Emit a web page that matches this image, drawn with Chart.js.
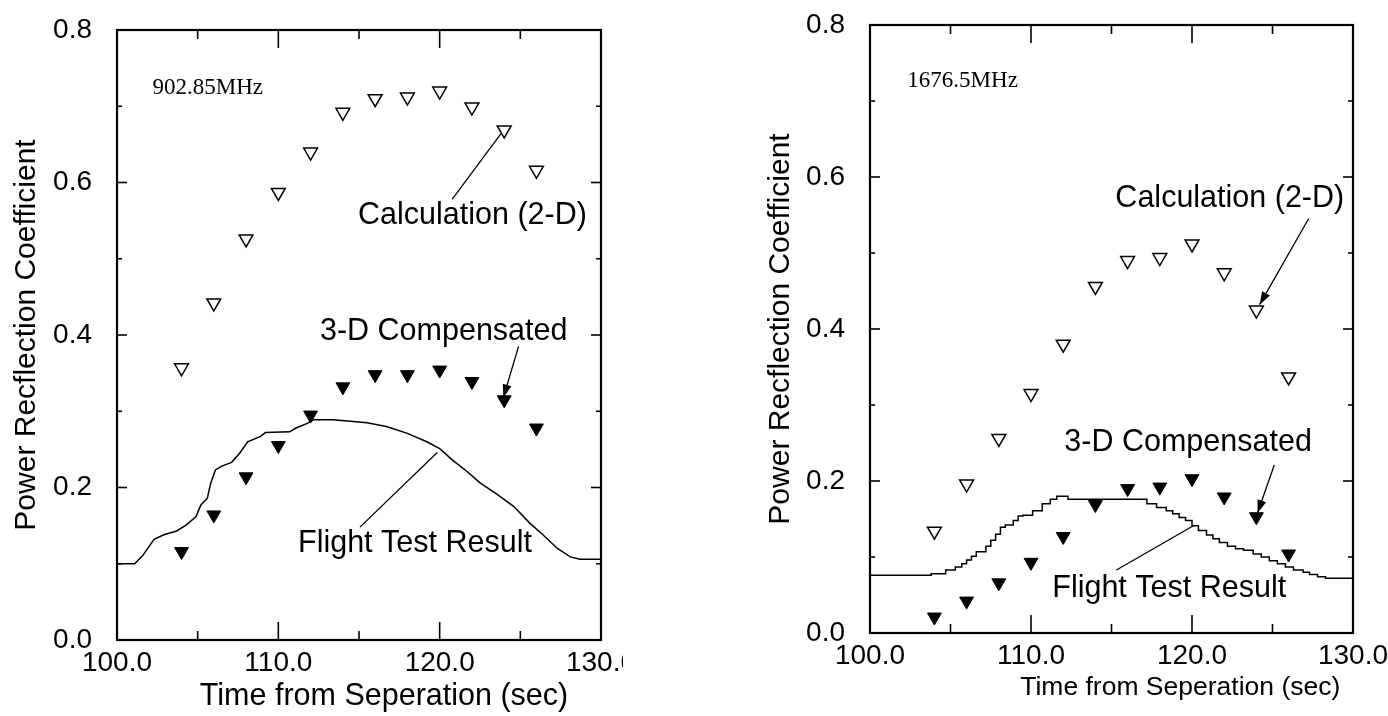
<!DOCTYPE html>
<html><head><meta charset="utf-8">
<script src="https://cdn.jsdelivr.net/npm/chart.js@4.4.1/dist/chart.umd.min.js"></script>
<style>
html,body{margin:0;padding:0;background:#fff;width:1388px;height:716px;overflow:hidden}
canvas{position:absolute;top:0}
#c1{left:0}
#c2{left:694px}
</style></head><body>
<canvas id="c1" width="623" height="716"></canvas>
<canvas id="c2" width="694" height="716"></canvas>
<script>
// ---- data ----
const times = [104, 106, 108, 110, 112, 114, 116, 118, 120, 122, 124, 126];

// 902.85 MHz
const calc902 = [0.357, 0.442, 0.526, 0.587, 0.640, 0.692, 0.710, 0.712, 0.720, 0.699, 0.669, 0.616];
const comp902 = [0.116, 0.164, 0.214, 0.255, 0.295, 0.332, 0.348, 0.348, 0.354, 0.339, 0.315, 0.278];
const flight902T = [100.0, 101.1, 101.6, 102.3, 102.9, 103.7, 104.3, 104.9, 105.2, 105.6, 105.8, 106.1, 106.5, 107.1, 107.6, 108.1, 108.9, 109.2, 110.7, 111.1, 111.8, 112.2, 113.4, 115.5, 116.7, 118.0, 119.2, 120.0, 120.8, 121.7, 122.5, 123.5, 124.6, 125.6, 126.4, 127.3, 128.1, 128.7, 130.0];
const flight902R = [0.100, 0.100, 0.111, 0.132, 0.138, 0.143, 0.151, 0.162, 0.177, 0.186, 0.205, 0.223, 0.228, 0.233, 0.245, 0.260, 0.267, 0.272, 0.273, 0.278, 0.284, 0.289, 0.289, 0.285, 0.280, 0.271, 0.260, 0.251, 0.236, 0.221, 0.206, 0.192, 0.175, 0.153, 0.138, 0.120, 0.109, 0.106, 0.106];

// 1676.5 MHz
const calc1676 = [0.134, 0.196, 0.256, 0.315, 0.380, 0.456, 0.490, 0.494, 0.512, 0.474, 0.425, 0.337];
const comp1676 = [0.021, 0.042, 0.066, 0.093, 0.127, 0.169, 0.190, 0.192, 0.203, 0.179, 0.153, 0.104];
const flight1676T = [100.0, 103.8, 104.7, 105.3, 105.7, 106.0, 106.3, 106.6, 107.2, 107.5, 107.8, 108.1, 108.4, 108.9, 109.2, 109.5, 110.1, 110.7, 111.2, 111.6, 112.3, 117.2, 117.8, 118.4, 118.8, 119.2, 119.6, 120.0, 120.4, 120.9, 121.3, 121.7, 122.2, 122.7, 123.2, 123.8, 124.3, 124.8, 125.3, 125.8, 126.3, 126.9, 127.3, 127.8, 128.3, 128.8, 130.0];
const flight1676R = [0.072, 0.076, 0.078, 0.083, 0.087, 0.091, 0.096, 0.101, 0.107, 0.114, 0.122, 0.130, 0.139, 0.142, 0.148, 0.154, 0.155, 0.161, 0.170, 0.176, 0.180, 0.176, 0.170, 0.165, 0.161, 0.157, 0.152, 0.148, 0.141, 0.135, 0.129, 0.124, 0.119, 0.114, 0.111, 0.109, 0.104, 0.100, 0.095, 0.091, 0.087, 0.083, 0.080, 0.077, 0.074, 0.072, 0.072];

// axis / label texts
const xTitle = 'Time from Seperation (sec)';
const yTitle = 'Power Recflection Coefficient';
const xMin = 100, xMax = 130, xStep = 10;
const yMin = 0, yMax = 0.8, yStep = 0.2;

const SANS = '"Liberation Sans", Arial, Helvetica, sans-serif';
const SERIF = '"Liberation Serif", "Times New Roman", serif';

const pts = (xs, ys) => xs.map((x, i) => ({x, y: ys[i]}));

const decor = {
  id: 'decor',
  afterDatasetsDraw(chart, args, o) {
    const ctx = chart.ctx, a = chart.chartArea, xs = chart.scales.x, ys = chart.scales.y;
    ctx.save();
    ctx.strokeStyle = '#000'; ctx.fillStyle = '#000';
    // frame
    ctx.lineWidth = 2.2;
    ctx.strokeRect(a.left, a.top, a.right - a.left, a.bottom - a.top);
    // inward tick marks on all four sides
    ctx.lineWidth = 1.6;
    const seg = (x1, y1, x2, y2) => { ctx.beginPath(); ctx.moveTo(x1, y1); ctx.lineTo(x2, y2); ctx.stroke(); };
    for (let v = xMin + xStep / 2; v < xMax - 1e-9; v += xStep / 2) {
      const major = Math.abs(v / xStep - Math.round(v / xStep)) < 1e-6;
      const L = major ? 18 : 9, p = xs.getPixelForValue(v);
      seg(p, a.bottom, p, a.bottom - L); seg(p, a.top, p, a.top + L);
    }
    for (let v = yMin + yStep / 2; v < yMax - 1e-9; v += yStep / 2) {
      const major = Math.abs(v / yStep - Math.round(v / yStep)) < 1e-6;
      const L = major ? 10 : 5, p = ys.getPixelForValue(v);
      seg(a.left, p, a.left + L, p); seg(a.right, p, a.right - L, p);
    }
    // leader lines
    ctx.lineWidth = 1.3;
    for (const l of o.lines) {
      const x1 = xs.getPixelForValue(l.x1), y1 = ys.getPixelForValue(l.y1);
      const x2 = xs.getPixelForValue(l.x2), y2 = ys.getPixelForValue(l.y2);
      seg(x1, y1, x2, y2);
      if (l.arrow) {
        const ang = Math.atan2(y2 - y1, x2 - x1), len = 13, w = 4.5;
        ctx.beginPath();
        ctx.moveTo(x2, y2);
        ctx.lineTo(x2 - len * Math.cos(ang) + w * Math.sin(ang), y2 - len * Math.sin(ang) - w * Math.cos(ang));
        ctx.lineTo(x2 - len * Math.cos(ang) - w * Math.sin(ang), y2 - len * Math.sin(ang) + w * Math.cos(ang));
        ctx.closePath(); ctx.fill();
      }
    }
    // annotation texts
    ctx.textBaseline = 'middle'; ctx.textAlign = 'left';
    for (const n of o.notes) {
      ctx.font = n.font;
      ctx.fillText(n.text, xs.getPixelForValue(n.x), ys.getPixelForValue(n.y));
    }
    // x axis title
    ctx.font = o.xTitleSize + 'px ' + SANS; ctx.textAlign = 'center';
    ctx.fillText(xTitle, xs.getPixelForValue(o.xTitleAt), a.bottom + o.xTitleDy);
    ctx.restore();
  }
};

function makeChart(id, cfg) {
  const tickFont = {family: SANS, size: 28};
  return new Chart(document.getElementById(id), {
    type: 'scatter',
    data: {datasets: [
      {type: 'line', data: pts(cfg.fT, cfg.fR), borderColor: '#000', borderWidth: 1.5,
       pointRadius: 0, stepped: cfg.stepped, fill: false, tension: 0, order: 3},
      {data: pts(times, cfg.calc), pointStyle: 'triangle', rotation: 180, pointRadius: 8,
       backgroundColor: '#fff', borderColor: '#000', borderWidth: 1.5, order: 2},
      {data: pts(times, cfg.comp), pointStyle: 'triangle', rotation: 180, pointRadius: 8,
       backgroundColor: '#000', borderColor: '#000', borderWidth: 1, order: 1}
    ]},
    options: {
      responsive: false, animation: false, events: [],
      layout: {padding: cfg.padding},
      plugins: {legend: {display: false}, tooltip: {enabled: false}, decor: cfg.decor},
      scales: {
        x: {type: 'linear', min: xMin, max: xMax,
            ticks: {stepSize: xStep, callback: v => Number(v).toFixed(1), font: tickFont, color: '#000',
                    padding: 6, maxRotation: 0, autoSkip: false},
            grid: {display: false, drawTicks: false}, border: {display: false},
            afterFit: s => { s.height = cfg.xH; s.paddingLeft = 0; s.paddingRight = 0; }},
        y: {type: 'linear', min: yMin, max: yMax,
            ticks: {stepSize: yStep, callback: v => Number(v).toFixed(1), font: tickFont, color: '#000',
                    padding: 25, autoSkip: false},
            grid: {display: false, drawTicks: false}, border: {display: false},
            title: {display: true, text: yTitle, color: '#000', font: {family: SANS, size: 30},
                    padding: {top: 9, bottom: 0}},
            afterFit: s => { s.width = cfg.yW; s.paddingTop = 0; s.paddingBottom = 0; }}
      }
    },
    plugins: [decor]
  });
}

const noteFont = '30.5px ' + SANS;
const freqFont = '23px ' + SERIF;

makeChart('c1', {
  fT: flight902T, fR: flight902R, calc: calc902, comp: comp902, stepped: false,
  padding: {left: 0, right: 22, top: 30, bottom: 0}, yW: 117, xH: 76,
  decor: {
    xTitleAt: 116.55, xTitleDy: 57, xTitleSize: 30.5,
    notes: [
      {text: '902.85MHz', x: 102.2, y: 0.724, font: freqFont},
      {text: 'Calculation (2-D)', x: 114.94, y: 0.557, font: noteFont},
      {text: '3-D Compensated', x: 112.58, y: 0.404, font: noteFont},
      {text: 'Flight Test Result', x: 111.22, y: 0.127, font: noteFont}
    ],
    lines: [
      {x1: 120.77, y1: 0.578, x2: 123.8, y2: 0.664, arrow: false},
      {x1: 124.89, y1: 0.385, x2: 123.95, y2: 0.318, arrow: true},
      {x1: 115.06, y1: 0.148, x2: 119.85, y2: 0.246, arrow: false}
    ]
  }
});

makeChart('c2', {
  fT: flight1676T, fR: flight1676R, calc: calc1676, comp: comp1676, stepped: 'after',
  padding: {left: 60, right: 35, top: 25, bottom: 0}, yW: 116, xH: 83,
  decor: {
    xTitleAt: 119.27, xTitleDy: 55, xTitleSize: 26.5,
    notes: [
      {text: '1676.5MHz', x: 102.32, y: 0.727, font: freqFont},
      {text: 'Calculation (2-D)', x: 115.24, y: 0.572, font: noteFont},
      {text: '3-D Compensated', x: 112.07, y: 0.250, font: noteFont},
      {text: 'Flight Test Result', x: 111.32, y: 0.059, font: noteFont}
    ],
    lines: [
      {x1: 127.24, y1: 0.545, x2: 124.2, y2: 0.432, arrow: true},
      {x1: 125.11, y1: 0.221, x2: 124.07, y2: 0.158, arrow: true},
      {x1: 115.28, y1: 0.0825, x2: 120.14, y2: 0.1417, arrow: false}
    ]
  }
});
</script>
</body></html>
